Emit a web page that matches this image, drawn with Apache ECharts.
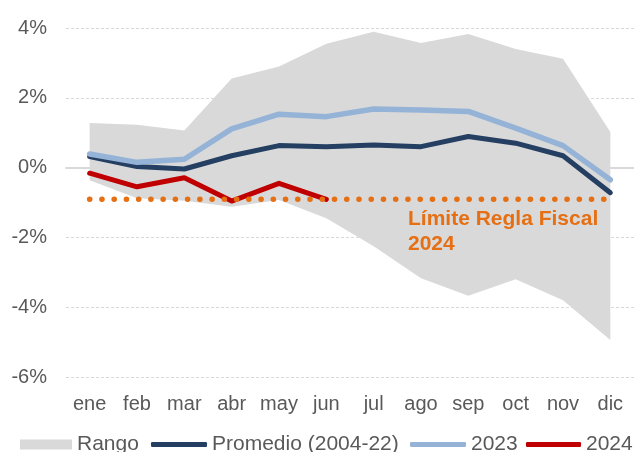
<!DOCTYPE html>
<html>
<head>
<meta charset="utf-8">
<script src="https://cdn.jsdelivr.net/npm/echarts@6/dist/echarts.min.js"></script>
<style>
html,body{margin:0;padding:0;background:#fff;}
#c{width:634px;height:452px;}
</style>
</head>
<body>
<div id="c"></div>
<script>
var categories = ['ene','feb','mar','abr','may','jun','jul','ago','sep','oct','nov','dic'];
var rangoMax = [1.28, 1.23, 1.06, 2.55, 2.90, 3.55, 3.89, 3.57, 3.83, 3.40, 3.12, 1.02];
var rangoMin = [-0.36, -0.88, -0.95, -1.12, -0.93, -1.45, -2.25, -3.17, -3.67, -3.20, -3.80, -4.94];
var promedio = [0.32, 0.03, -0.04, 0.34, 0.63, 0.60, 0.65, 0.60, 0.89, 0.70, 0.34, -0.72];
var serie2023 = [0.39, 0.15, 0.24, 1.11, 1.53, 1.46, 1.68, 1.65, 1.61, 1.13, 0.63, -0.35];
var serie2024 = [-0.16, -0.55, -0.29, -0.96, -0.45, -0.91];
var limite = [-0.91, -0.91, -0.91, -0.91, -0.91, -0.91, -0.91, -0.91, -0.91, -0.91, -0.91, -0.91];
var yTicks = {min: -6, max: 4, interval: 2};
var limiteLabel = 'Límite Regla Fiscal\n2024';
var limiteLabelAt = 'ago';

var FONT = '"Liberation Sans", Arial, sans-serif';
var TXT = '#595959';
var ORANGE = '#e56f12';

var rangoSpan = rangoMax.map(function (v, i) { return +(v - rangoMin[i]).toFixed(4); });
var limAnchorIdx = categories.indexOf(limiteLabelAt);

var chart = echarts.init(document.getElementById('c'), null, {renderer: 'canvas'});
chart.setOption({
  animation: false,
  backgroundColor: '#fff',
  grid: {left: 66, right: 0, top: 28, bottom: 75, containLabel: false},
  xAxis: {
    type: 'category',
    data: categories,
    boundaryGap: true,
    axisLine: {show: true, onZero: true, lineStyle: {color: '#d9d9d9', width: 2}},
    axisTick: {show: false},
    axisLabel: {color: TXT, fontSize: 20, fontFamily: FONT, margin: 17, interval: 0}
  },
  yAxis: {
    type: 'value',
    min: yTicks.min, max: yTicks.max, interval: yTicks.interval,
    axisLine: {show: false},
    axisTick: {show: false},
    axisLabel: {color: TXT, fontSize: 20, fontFamily: FONT, margin: 19, formatter: '{value}%'},
    splitLine: {show: true, lineStyle: {color: '#d9d9d9', width: 1, type: [3, 2]}}
  },
  legend: [
    {data: [{name: 'Rango', icon: 'rect'}], left: 20, top: 434, padding: 0, itemWidth: 52, itemHeight: 10, itemGap: 0,
     textStyle: {color: TXT, fontSize: 21, fontFamily: FONT}},
    {data: [{name: 'Promedio (2004-22)', icon: 'roundRect'}], left: 151, top: 434, padding: 0, itemWidth: 56, itemHeight: 5,
     textStyle: {color: TXT, fontSize: 21, fontFamily: FONT}},
    {data: [{name: '2023', icon: 'roundRect'}], left: 410, top: 434, padding: 0, itemWidth: 56, itemHeight: 5,
     textStyle: {color: TXT, fontSize: 21, fontFamily: FONT}},
    {data: [{name: '2024', icon: 'roundRect'}], left: 526, top: 434, padding: 0, itemWidth: 55, itemHeight: 5,
     textStyle: {color: TXT, fontSize: 21, fontFamily: FONT}}
  ],
  series: [
    {
      name: 'RangoMin', type: 'line', data: rangoMin, stack: 'rango', stackStrategy: 'all',
      symbol: 'none', lineStyle: {opacity: 0, width: 0}, silent: true
    },
    {
      name: 'Rango', type: 'line', data: rangoSpan, stack: 'rango', stackStrategy: 'all',
      symbol: 'none', lineStyle: {opacity: 0, width: 0},
      itemStyle: {color: '#d9d9d9'},
      areaStyle: {color: '#d9d9d9', opacity: 1}, silent: true
    },
    {
      name: 'Promedio (2004-22)', type: 'line', data: promedio, symbol: 'none',
      itemStyle: {color: '#243f62'}, color: '#243f62',
      lineStyle: {color: '#243f62', width: 5, cap: 'round', join: 'round'}
    },
    {
      name: '2023', type: 'line', data: serie2023, symbol: 'none',
      itemStyle: {color: '#95b3d7'}, color: '#95b3d7',
      lineStyle: {color: '#95b3d7', width: 5.5, cap: 'round', join: 'round'}
    },
    {
      name: '2024', type: 'line', data: serie2024, symbol: 'none',
      itemStyle: {color: '#c00000'}, color: '#c00000',
      lineStyle: {color: '#c00000', width: 5, cap: 'round', join: 'round'}
    },
    {
      name: 'Límite', type: 'line', data: limite, symbol: 'none',
      lineStyle: {color: ORANGE, width: 5.5, type: [0.1, 12.14], cap: 'round'},
      markPoint: {
        symbol: 'circle', symbolSize: 0, silent: true,
        data: [{
          coord: [limAnchorIdx, limite[limAnchorIdx]],
          label: {
            show: true, formatter: limiteLabel, position: [-13, 7], align: 'left', verticalAlign: 'top',
            color: ORANGE, fontSize: 21, fontWeight: 'bold', fontFamily: FONT, lineHeight: 25
          }
        }]
      }
    }
  ]
});
</script>
</body>
</html>
